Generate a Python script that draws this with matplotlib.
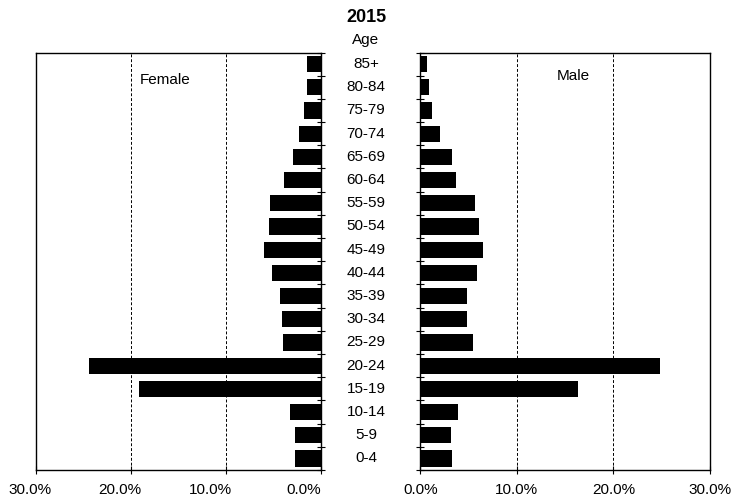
import matplotlib
matplotlib.use("Agg")
import matplotlib.pyplot as plt
import numpy as np
from matplotlib.ticker import FuncFormatter
import matplotlib.transforms as mtransforms

plt.rcParams['font.family'] = ['Liberation Sans', 'DejaVu Sans']

ages = ["0-4", "5-9", "10-14", "15-19", "20-24", "25-29", "30-34", "35-39",
        "40-44", "45-49", "50-54", "55-59", "60-64", "65-69", "70-74",
        "75-79", "80-84", "85+"]
female = [2.8, 2.8, 3.3, 19.1, 24.4, 4.0, 4.1, 4.35, 5.15, 6.0, 5.5, 5.35,
          3.9, 3.0, 2.4, 1.8, 1.5, 1.5]
male = [3.3, 3.2, 3.9, 16.3, 24.8, 5.5, 4.85, 4.8, 5.85, 6.45, 6.1, 5.7,
        3.7, 3.3, 2.0, 1.2, 0.9, 0.7]
xticks = [0, 10, 20, 30]
title = "2015"

fig = plt.figure(figsize=(7.32, 5.03), dpi=100)
axL = fig.add_axes([0.0485, 0.0656, 0.3907, 0.830])
axR = fig.add_axes([0.5742, 0.0656, 0.3958, 0.830])

y = np.arange(len(ages))
axL.barh(y, female, height=0.7, color='black')
axR.barh(y, male, height=0.7, color='black')

fmt = FuncFormatter(lambda v, p: f"{v:.1f}%")
for ax in (axL, axR):
    ax.set_xlim(0, 30)
    ax.set_ylim(-0.5, len(ages) - 0.5)
    ax.set_xticks(xticks)
    ax.xaxis.set_major_formatter(fmt)
    ax.set_yticks(np.arange(len(ages) + 1) - 0.5)
    ax.set_yticklabels([])
    for xv in [10, 20]:
        ax.axvline(xv, color='black', linestyle=(0, (3, 2)), linewidth=0.7, zorder=0)
    for s in ax.spines.values():
        s.set_linewidth(1.0)
    ax.tick_params(axis='x', direction='inout', length=6, labelsize=11, pad=6)
    ax.tick_params(axis='y', direction='inout', length=6)

axL.invert_xaxis()
axL.yaxis.tick_right()
axR.yaxis.tick_left()

# left-panel tick labels sit slightly left of their ticks in the original
axL.set_xticklabels([])
shifts_px = [-18, -16, -11, -5]
transL = mtransforms.blended_transform_factory(axL.transData, axL.transAxes)
for xv, sh in zip(xticks, shifts_px):
    off = mtransforms.ScaledTranslation(sh / 100, 0, fig.dpi_scale_trans)
    axL.text(xv, 0, fmt(xv, None), transform=transL + off, ha='center', va='top',
             fontsize=11, clip_on=False)
    # place label below axis with pad
for t in axL.texts:
    pass

axL.text(16.4, 16.3, "Female", ha='center', va='center', fontsize=11)
axR.text(15.8, 16.5, "Male", ha='center', va='center', fontsize=11)

trans = mtransforms.blended_transform_factory(fig.transFigure, axL.transData)
for i, a in enumerate(ages):
    axL.text(0.5, i, a, transform=trans, ha='center', va='center', fontsize=11,
             clip_on=False)

fig.text(0.5, 1 - 18 / 503, title, ha='center', va='center', fontsize=13, fontweight='bold')
fig.text(0.5, 1 - 40 / 503, "Age", ha='center', va='center', fontsize=11)

# shift the manual left tick labels down to match the right panel's pad
for t in axL.texts[:len(xticks)]:
    t.set_transform(t.get_transform() + mtransforms.ScaledTranslation(0, -9 / 72, fig.dpi_scale_trans))

fig.savefig("out.png", dpi=100)
